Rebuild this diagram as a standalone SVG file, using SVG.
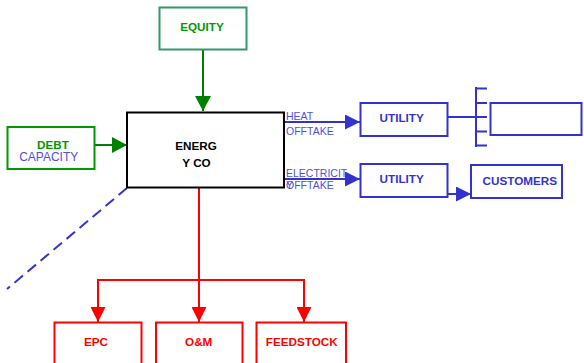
<svg xmlns="http://www.w3.org/2000/svg" width="584" height="363" viewBox="0 0 584 363">
<defs>
<style>
.lbl{font-family:"Liberation Sans",Arial,sans-serif;font-weight:bold;font-size:11.7px;text-anchor:middle}
.sm{font-family:"Liberation Sans",Arial,sans-serif;font-size:10.5px;fill:#5050d8}
.g{fill:#009900}.b{fill:#3333cc}.r{fill:#ff0000}.k{fill:#000}
.box{fill:#fff;stroke-width:2}
.ln{fill:none;stroke-width:2}
</style>
<marker id="ag" markerUnits="userSpaceOnUse" markerWidth="16" markerHeight="16" refX="15" refY="8" orient="auto"><path d="M0,0L15,8L0,16z" fill="#008000"/></marker>
<marker id="ab" markerUnits="userSpaceOnUse" markerWidth="16" markerHeight="15" refX="15" refY="7.5" orient="auto"><path d="M0,0L15,7.5L0,15z" fill="#3333cc"/></marker>
<marker id="ar" markerUnits="userSpaceOnUse" markerWidth="15" markerHeight="15" refX="15" refY="7.5" orient="auto"><path d="M0,0L15,7.5L0,15z" fill="#ff0000"/></marker>
</defs>
<g id="connectors">
<line class="ln" x1="203" y1="50" x2="203" y2="111" stroke="#008000" marker-end="url(#ag)"/>
<line class="ln" x1="95" y1="145" x2="127" y2="145" stroke="#008000" marker-end="url(#ag)"/>
<line class="ln" x1="284" y1="122" x2="360" y2="122" stroke="#3333cc" marker-end="url(#ab)"/>
<line class="ln" x1="284" y1="179" x2="360" y2="179" stroke="#3333cc" marker-end="url(#ab)"/>
<line class="ln" x1="447" y1="194" x2="471" y2="194" stroke="#3333cc" marker-end="url(#ab)"/>
<line class="ln" x1="447" y1="117" x2="476" y2="117" stroke="#3333cc"/>
<path class="ln" stroke="#3333cc" d="M476,87V147M476,88.5H487M476,103H487M476,117H487M476,131.5H487M476,145.5H487"/>
<line class="ln" x1="127" y1="188" x2="7" y2="289" stroke="#3333cc" stroke-dasharray="11,6"/>
<path class="ln" stroke="#ff0000" d="M98,300V280H304V300"/>
<line class="ln" x1="98" y1="299" x2="98" y2="322" stroke="#ff0000" marker-end="url(#ar)"/>
<line class="ln" x1="199" y1="188" x2="199" y2="322" stroke="#ff0000" marker-end="url(#ar)"/>
<line class="ln" x1="304" y1="299" x2="304" y2="322" stroke="#ff0000" marker-end="url(#ar)"/>
</g>
<g id="equity"><rect class="box" x="159.5" y="7.5" width="87" height="42" stroke="#339966"/><text class="lbl g" x="202" y="31">EQUITY</text></g>
<g id="debt"><rect class="box" x="7.5" y="127" width="87" height="42" stroke="#009900"/><text class="lbl g" x="53" y="149.3">DEBT</text><text x="48.7" y="161" style="font-family:'Liberation Sans',Arial,sans-serif;font-size:12px;text-anchor:middle" fill="#5050d8">CAPACITY</text></g>
<g id="energyco"><rect class="box" x="127" y="112.5" width="157" height="75" stroke="#000"/><text class="lbl k" x="196" y="150">ENERG</text><text class="lbl k" x="196.5" y="166.7">Y CO</text></g>
<g id="heat-label"><text class="sm" x="286" y="120">HEAT</text><text class="sm" x="286" y="135">OFFTAKE</text></g>
<g id="elec-label"><text class="sm" x="286" y="177.3">ELECTRICIT</text><text class="sm" x="286" y="189">Y<tspan dx="-7">OFFTAKE</tspan></text></g>
<g id="utility1"><rect class="box" x="360.5" y="103" width="87" height="33" stroke="#3333cc"/><text class="lbl b" x="401.7" y="121.5">UTILITY</text></g>
<g id="blank"><rect class="box" x="490.5" y="103" width="91" height="32" stroke="#3333cc"/></g>
<g id="utility2"><rect class="box" x="360.5" y="164" width="87" height="33" stroke="#3333cc"/><text class="lbl b" x="401.7" y="183">UTILITY</text></g>
<g id="customers"><rect class="box" x="471" y="165" width="91" height="33" stroke="#3333cc"/><text class="lbl b" x="519.8" y="184.5">CUSTOMERS</text></g>
<g id="epc"><rect class="box" x="54.5" y="322.5" width="87" height="50" stroke="#ff0000"/><text class="lbl r" x="96" y="346">EPC</text></g>
<g id="om"><rect class="box" x="156" y="322.5" width="86.5" height="50" stroke="#ff0000"/><text class="lbl r" x="198.7" y="346">O&amp;M</text></g>
<g id="feedstock"><rect class="box" x="256.5" y="322.5" width="89.5" height="50" stroke="#ff0000"/><text class="lbl r" x="301.8" y="346">FEEDSTOCK</text></g>
</svg>
